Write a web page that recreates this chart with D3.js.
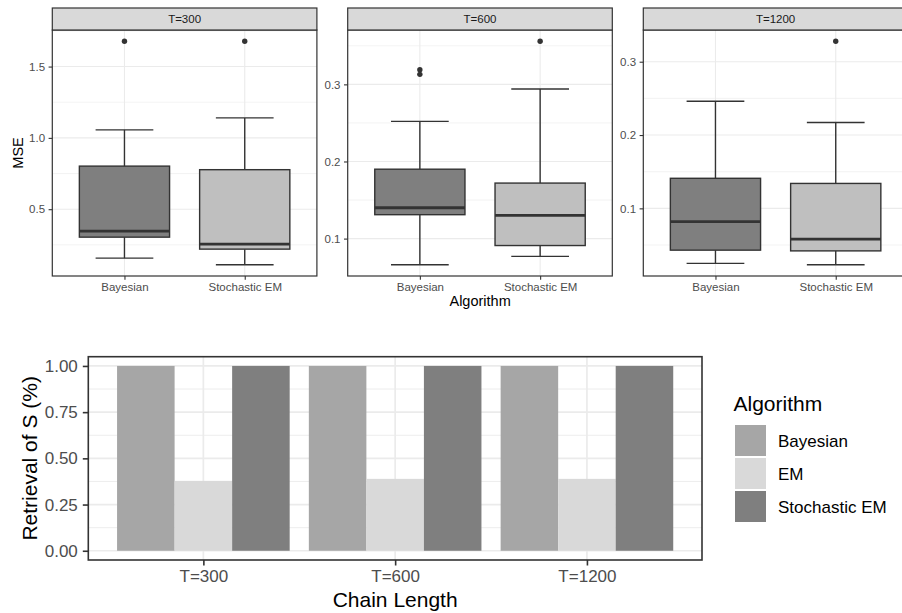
<!DOCTYPE html>
<html>
<head>
<meta charset="utf-8">
<script src="https://cdn.jsdelivr.net/npm/d3@7"></script>
<style>
  html, body { margin: 0; padding: 0; background: #fff; overflow: hidden; }
  svg { display: block; font-family: "Liberation Sans", Arial, Helvetica, sans-serif; }
</style>
</head>
<body>
<svg id="chart" width="902" height="613"></svg>
<script>
// ---------- DATA ----------
const panels = ["T=300", "T=600", "T=1200"];
const boxAlgorithms = ["Bayesian", "Stochastic EM"];
// box statistics per panel: [Bayesian, Stochastic EM]
const boxLower   = [[0.157, 0.110], [0.066, 0.077], [0.025, 0.023]];
const boxQ1      = [[0.304, 0.220], [0.131, 0.091], [0.043, 0.042]];
const boxMedian  = [[0.346, 0.255], [0.140, 0.130], [0.082, 0.058]];
const boxQ3      = [[0.802, 0.777], [0.190, 0.172], [0.141, 0.134]];
const boxUpper   = [[1.056, 1.140], [0.252, 0.294], [0.246, 0.217]];
const boxOutliers = [[[1.678], [1.678]], [[0.319, 0.313], [0.356]], [[], [0.328]]];
const topTicks = [[0.5, 1.0, 1.5], [0.1, 0.2, 0.3], [0.1, 0.2, 0.3]];
const topMinor = [[0.25, 0.75, 1.25, 1.75], [0.05, 0.15, 0.25, 0.35], [0.05, 0.15, 0.25]];
const boxFills = ["#7f7f7f", "#bfbfbf"];

const chainLengths = ["T=300", "T=600", "T=1200"];
const barAlgorithms = ["Bayesian", "EM", "Stochastic EM"];
const retrievalBayesian = [1.00, 1.00, 1.00];
const retrievalEM = [0.378, 0.389, 0.389];
const retrievalStochEM = [1.00, 1.00, 1.00];
const barTicks = [0.00, 0.25, 0.50, 0.75, 1.00];
const barMinor = [0.125, 0.375, 0.625, 0.875];
const barFills = ["#a6a6a6", "#d9d9d9", "#7f7f7f"];

// ---------- DRAW ----------
const svg = d3.select("#chart");
const FONT = '"Liberation Sans", Arial, Helvetica, sans-serif';
const dark = "#333333";

// ---- Top: faceted boxplots ----
const pTop = 30, pBottom = 276, stripTop = 8;
const panelLefts = [52.3, 347.7, 643.3];
const panelW = 264.6;

panels.forEach((pname, pi) => {
  const left = panelLefts[pi], right = left + panelW;
  const allVals = [...boxLower[pi], ...boxUpper[pi], ...boxOutliers[pi].flat()];
  const lo = d3.min(allVals), hi = d3.max(allVals), pad = (hi - lo) * 0.05;
  const y = d3.scaleLinear().domain([lo - pad, hi + pad]).range([pBottom, pTop]);
  const x = d3.scalePoint().domain(boxAlgorithms).range([left, right]).padding(0.6);
  const step = x.step();
  const g = svg.append("g");

  // background
  g.append("rect").attr("x", left).attr("y", pTop).attr("width", panelW).attr("height", pBottom - pTop).attr("fill", "#fff");
  // minor grid
  g.selectAll(".mn").data(topMinor[pi].filter(v => v >= y.domain()[0] && v <= y.domain()[1])).join("line")
    .attr("x1", left).attr("x2", right).attr("y1", d => y(d)).attr("y2", d => y(d))
    .attr("stroke", "#ebebeb").attr("stroke-width", 0.6);
  // major grid
  g.selectAll(".mj").data(topTicks[pi]).join("line")
    .attr("x1", left).attr("x2", right).attr("y1", d => y(d)).attr("y2", d => y(d))
    .attr("stroke", "#ebebeb").attr("stroke-width", 1.1);
  g.selectAll(".vj").data(boxAlgorithms).join("line")
    .attr("x1", d => x(d)).attr("x2", d => x(d)).attr("y1", pTop).attr("y2", pBottom)
    .attr("stroke", "#ebebeb").attr("stroke-width", 1.1);

  // boxes
  boxAlgorithms.forEach((a, ai) => {
    const cx = x(a);
    const bw = 0.75 * step, cw = 0.48 * step;
    // whiskers
    g.append("line").attr("x1", cx).attr("x2", cx).attr("y1", y(boxQ3[pi][ai])).attr("y2", y(boxUpper[pi][ai]))
      .attr("stroke", dark).attr("stroke-width", 1.4);
    g.append("line").attr("x1", cx).attr("x2", cx).attr("y1", y(boxQ1[pi][ai])).attr("y2", y(boxLower[pi][ai]))
      .attr("stroke", dark).attr("stroke-width", 1.4);
    g.append("line").attr("x1", cx - cw / 2).attr("x2", cx + cw / 2).attr("y1", y(boxUpper[pi][ai])).attr("y2", y(boxUpper[pi][ai]))
      .attr("stroke", dark).attr("stroke-width", 1.4);
    g.append("line").attr("x1", cx - cw / 2).attr("x2", cx + cw / 2).attr("y1", y(boxLower[pi][ai])).attr("y2", y(boxLower[pi][ai]))
      .attr("stroke", dark).attr("stroke-width", 1.4);
    // box
    g.append("rect").attr("x", cx - bw / 2).attr("width", bw)
      .attr("y", y(boxQ3[pi][ai])).attr("height", y(boxQ1[pi][ai]) - y(boxQ3[pi][ai]))
      .attr("fill", boxFills[ai]).attr("stroke", dark).attr("stroke-width", 1.4);
    // median
    g.append("line").attr("x1", cx - bw / 2).attr("x2", cx + bw / 2).attr("y1", y(boxMedian[pi][ai])).attr("y2", y(boxMedian[pi][ai]))
      .attr("stroke", dark).attr("stroke-width", 2.8);
    // outliers
    g.selectAll(null).data(boxOutliers[pi][ai]).join("circle")
      .attr("cx", cx).attr("cy", d => y(d)).attr("r", 2.7).attr("fill", dark);
  });

  // panel border
  g.append("rect").attr("x", left).attr("y", pTop).attr("width", panelW).attr("height", pBottom - pTop)
    .attr("fill", "none").attr("stroke", dark).attr("stroke-width", 1.2);
  // strip
  g.append("rect").attr("x", left).attr("y", stripTop).attr("width", panelW).attr("height", pTop - stripTop)
    .attr("fill", "#d9d9d9").attr("stroke", dark).attr("stroke-width", 1.2);
  g.append("text").attr("x", (left + right) / 2).attr("y", 23.2).attr("text-anchor", "middle")
    .attr("font-size", "11.5px").attr("fill", "#1a1a1a").text(pname);

  // y axis
  const yAxis = d3.axisLeft(y).tickValues(topTicks[pi]).tickFormat(d3.format(".1f")).tickSize(3.7).tickPadding(3.5);
  const ya = g.append("g").attr("transform", `translate(${left},0)`).call(yAxis);
  ya.select(".domain").remove();
  ya.selectAll(".tick line").attr("stroke", dark).attr("stroke-width", 1.1);
  ya.selectAll(".tick text").attr("font-size", "11.5px").attr("fill", "#4d4d4d").attr("font-family", FONT);

  // x axis
  const xAxis = d3.axisBottom(x).tickSize(3.7).tickPadding(3.5);
  const xa = g.append("g").attr("transform", `translate(0,${pBottom})`).call(xAxis);
  xa.select(".domain").remove();
  xa.selectAll(".tick line").attr("stroke", dark).attr("stroke-width", 1.1);
  xa.selectAll(".tick text").attr("font-size", "11.5px").attr("fill", "#4d4d4d").attr("font-family", FONT);
});

// top titles
svg.append("text").attr("x", (panelLefts[0] + panelLefts[2] + panelW) / 2).attr("y", 306)
  .attr("text-anchor", "middle").attr("font-size", "14.5px").attr("fill", "#000").text("Algorithm");
svg.append("text").attr("transform", `translate(22.5,${(pTop + pBottom) / 2}) rotate(-90)`)
  .attr("text-anchor", "middle").attr("font-size", "14.5px").attr("fill", "#000").text("MSE");

// ---- Bottom: grouped bar chart ----
const bLeft = 88.3, bRight = 702, bTop = 356.7, bBottom = 560;
const by = d3.scaleLinear().domain([-0.05, 1.05]).range([bBottom, bTop]);
const bx = d3.scalePoint().domain(chainLengths).range([bLeft, bRight]).padding(0.6);
const bstep = bx.step();
const inner = d3.scaleBand().domain(barAlgorithms).range([-0.45 * bstep, 0.45 * bstep]);
const bg = svg.append("g");

bg.append("rect").attr("x", bLeft).attr("y", bTop).attr("width", bRight - bLeft).attr("height", bBottom - bTop).attr("fill", "#fff");
bg.selectAll(".mn").data(barMinor).join("line")
  .attr("x1", bLeft).attr("x2", bRight).attr("y1", d => by(d)).attr("y2", d => by(d))
  .attr("stroke", "#ebebeb").attr("stroke-width", 0.9);
bg.selectAll(".mj").data(barTicks).join("line")
  .attr("x1", bLeft).attr("x2", bRight).attr("y1", d => by(d)).attr("y2", d => by(d))
  .attr("stroke", "#ebebeb").attr("stroke-width", 1.7);
bg.selectAll(".vj").data(chainLengths).join("line")
  .attr("x1", d => bx(d)).attr("x2", d => bx(d)).attr("y1", bTop).attr("y2", bBottom)
  .attr("stroke", "#ebebeb").attr("stroke-width", 1.7);

const barSeries = [retrievalBayesian, retrievalEM, retrievalStochEM];
const barData = [];
chainLengths.forEach((c, ci) => barAlgorithms.forEach((a, ai) => barData.push({ c, a, ai, v: barSeries[ai][ci] })));
bg.selectAll(".bar").data(barData).join("rect")
  .attr("x", d => bx(d.c) + inner(d.a)).attr("width", inner.bandwidth())
  .attr("y", d => by(d.v)).attr("height", d => by(0) - by(d.v))
  .attr("fill", d => barFills[d.ai]);

bg.append("rect").attr("x", bLeft).attr("y", bTop).attr("width", bRight - bLeft).attr("height", bBottom - bTop)
  .attr("fill", "none").attr("stroke", dark).attr("stroke-width", 1.6);

const byAxis = d3.axisLeft(by).tickValues(barTicks).tickFormat(d3.format(".2f")).tickSize(5.5).tickPadding(5);
const bya = bg.append("g").attr("transform", `translate(${bLeft},0)`).call(byAxis);
bya.select(".domain").remove();
bya.selectAll(".tick line").attr("stroke", dark).attr("stroke-width", 1.6);
bya.selectAll(".tick text").attr("font-size", "17px").attr("fill", "#4d4d4d").attr("font-family", FONT);

const bxAxis = d3.axisBottom(bx).tickSize(5.5).tickPadding(4.5);
const bxa = bg.append("g").attr("transform", `translate(0,${bBottom})`).call(bxAxis);
bxa.select(".domain").remove();
bxa.selectAll(".tick line").attr("stroke", dark).attr("stroke-width", 1.6);
bxa.selectAll(".tick text").attr("font-size", "17px").attr("fill", "#4d4d4d").attr("font-family", FONT);

svg.append("text").attr("x", (bLeft + bRight) / 2).attr("y", 606.5).attr("text-anchor", "middle")
  .attr("font-size", "21px").attr("fill", "#000").text("Chain Length");
svg.append("text").attr("transform", `translate(36.5,${(bTop + bBottom) / 2}) rotate(-90)`)
  .attr("text-anchor", "middle").attr("font-size", "21px").attr("fill", "#000").text("Retrieval of S (%)");

// legend
const lg = svg.append("g");
lg.append("text").attr("x", 733.5).attr("y", 411).attr("font-size", "21px").attr("fill", "#000").text("Algorithm");
barAlgorithms.forEach((a, i) => {
  const top = 425 + i * 33;
  lg.append("rect").attr("x", 735).attr("y", top).attr("width", 31).attr("height", 31).attr("fill", barFills[i]);
  lg.append("text").attr("x", 778).attr("y", top + 15.5).attr("dy", "0.36em")
    .attr("font-size", "17px").attr("fill", "#000").text(a);
});
</script>
</body>
</html>
